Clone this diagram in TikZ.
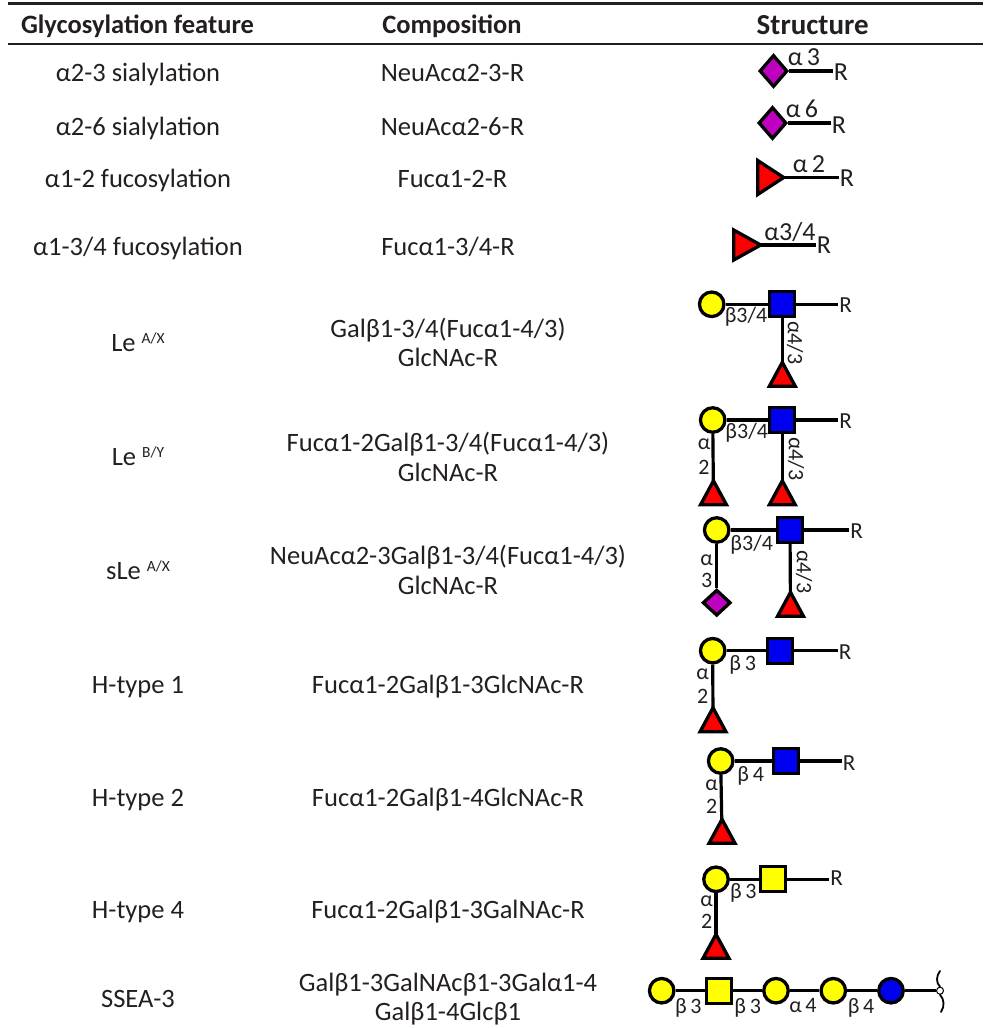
\documentclass[tikz,border=0pt]{standalone}
\usepackage{fontspec}
\setmainfont{Carlito}
\usetikzlibrary{shapes.geometric,backgrounds}
\definecolor{ink}{HTML}{231F20}
\definecolor{sialic}{HTML}{C000C0}
\definecolor{gnblue}{HTML}{0000F0}
\definecolor{galyellow}{HTML}{FFFF00}
\definecolor{fucred}{HTML}{FF0000}
\newcommand{\supr}[1]{\raisebox{8pt}{\fontsize{15.5}{16}\selectfont #1}}
\tikzset{
  cell/.style={font=\fontsize{26.5}{29.5}\selectfont,text=ink,inner sep=0pt,align=center},
  one/.style={font=\fontsize{26.5}{29.5}\selectfont,text=ink,inner sep=0pt,text height=17pt,text depth=5pt},
  head/.style={one,font=\fontsize{26.5}{29.5}\selectfont\bfseries},
  lab/.style={font=\fontsize{22}{24}\selectfont,text=ink,inner sep=0pt},
  labbig/.style={font=\fontsize{26}{28}\selectfont,text=ink,inner sep=0pt},
  rlab/.style={font=\fontsize{23}{24}\selectfont,text=ink,inner sep=1pt},
  rbig/.style={font=\fontsize{26}{28}\selectfont,text=ink,inner sep=1pt},
  link/.style={line width=3.2pt,black},
  glc/.style={draw=black,line width=3.3pt,inner sep=0pt},
  cgal/.style={glc,circle,fill=galyellow,minimum size=24.5pt},
  cglc/.style={glc,circle,fill=gnblue,minimum size=24.5pt},
  sqb/.style={glc,rectangle,fill=gnblue,minimum size=25pt},
  sqy/.style={glc,rectangle,fill=galyellow,minimum size=25pt},
  dia/.style={glc,diamond,fill=sialic,minimum width=28pt,minimum height=32pt,aspect=1},
  tri/.style={glc,isosceles triangle,isosceles triangle stretches,fill=fucred},
  triright/.style={tri,shape border rotate=0,anchor=apex},
  triup/.style={tri,shape border rotate=90,anchor=apex,minimum width=26pt,minimum height=24pt},
}
\begin{document}
\begin{tikzpicture}[x=1pt,y=-1pt]
\useasboundingbox (0,0) rectangle (983,1028);
\coordinate (tl) at (8,3.5); \coordinate (tr) at (983,3.5);
\coordinate (ml) at (8,44); \coordinate (mr) at (983,44);
\draw[line width=2.2pt,ink] (tl) -- (tr);
\draw[line width=1.2pt,ink] (ml) -- (mr);
% headers
\node[head] (h1) at (137.5,27.4) {Glycosylation feature};
\node[head] (h2) at (452,27.4) {Composition};
\node[head,font=\fontsize{29}{30}\selectfont\bfseries] (h3) at (812.7,28.4) {Structure};
% first column
\node[one] (a1) at (138,75.7) {α2-3 sialylation};
\node[one] (a2) at (138,129) {α2-6 sialylation};
\node[one] (a3) at (138,181.7) {α1-2 fucosylation};
\node[one] (a4) at (138,249) {α1-3/4 fucosylation};
\node[one] (a5) at (138,345) {Le \supr{A/X}};
\node[one] (a6) at (138,459) {Le \supr{B/Y}};
\node[one] (a7) at (138,573) {sLe \supr{A/X}};
\node[one] (a8) at (138,687.4) {H-type 1};
\node[one] (a9) at (138,800) {H-type 2};
\node[one] (a10) at (138,912.4) {H-type 4};
\node[one] (a11) at (138,1001.7) {SSEA-3};
% second column
\node[one] (b1) at (452.5,75.7) {NeuAcα2-3-R};
\node[one] (b2) at (452.5,129) {NeuAcα2-6-R};
\node[one] (b3) at (452.5,181.7) {Fucα1-2-R};
\node[one] (b4) at (448,249) {Fucα1-3/4-R};
\node[cell] (b5) at (448,342.6) {Galβ1-3/4(Fucα1-4/3)\\GlcNAc-R};
\node[cell] (b6) at (448,457) {Fucα1-2Galβ1-3/4(Fucα1-4/3)\\GlcNAc-R};
\node[cell] (b7) at (448,570) {NeuAcα2-3Galβ1-3/4(Fucα1-4/3)\\GlcNAc-R};
\node[one] (b8) at (448,687.4) {Fucα1-2Galβ1-3GlcNAc-R};
\node[one] (b9) at (448,800) {Fucα1-2Galβ1-4GlcNAc-R};
\node[one] (b10) at (448,912.4) {Fucα1-2Galβ1-3GalNAc-R};
\node[cell] (b11) at (448,999) {Galβ1-3GalNAcβ1-3Galα1-4\\Galβ1-4Glcβ1};
% row 1
\node[dia] (d1) at (773.5,71) {};
\node[rbig] (r1) at (841,72) {R};
\node[labbig] at (804,57) {α\,3};
% row 2
\node[dia] (d2) at (772.5,123) {};
\node[rbig] (r2) at (839,125) {R};
\node[labbig] at (802,109) {α\,6};
% row 3
\node[triright,minimum width=34pt,minimum height=26pt] (t3) at (788,177.5) {};
\node[rbig] (r3) at (847,178) {R};
\node[labbig] at (809,164) {α\,2};
% row 4
\node[triright,minimum width=30pt,minimum height=27pt] (t4) at (765,245) {};
\node[rbig] (r4) at (824,245) {R};
\node[labbig] at (790,232) {α3/4};
% Le A/X
\node[cgal] (g5) at (711.7,304.3) {};
\node[sqb] (s5) at (782.3,304.3) {};
\node[triup] (t5) at (782.3,358) {};
\node[rlab] (r5) at (845.7,305) {R};
\node[lab] at (746,317) {β3/4};
\node[lab,rotate=-90] at (795,343) {α4/3};
% Le B/Y
\node[cgal] (g6) at (712.7,420) {};
\node[sqb] (s6) at (782.3,420) {};
\node[triup] (t6a) at (713.5,476.5) {};
\node[triup] (t6b) at (782.3,476.5) {};
\node[rlab] (r6) at (845.7,421) {R};
\node[lab] at (746.7,433) {β3/4};
\node[lab] at (704,444) {α};
\node[lab] at (704,467) {2};
\node[lab,rotate=-90] at (796,459) {α4/3};
% sLe A/X
\node[cgal] (g7) at (716.7,530) {};
\node[sqb] (s7) at (790,530) {};
\node[dia,minimum width=28pt,minimum height=26pt] (d7) at (716.7,602.7) {};
\node[triup] (t7) at (790.5,588) {};
\node[rlab] (r7) at (856.7,530.7) {R};
\node[lab] at (751.7,545) {β3/4};
\node[lab] at (706.7,560.7) {α};
\node[lab] at (706.7,580.7) {3};
\node[lab,rotate=-90] at (804,571.7) {α4/3};
% H-type 1
\node[cgal] (g8) at (712.7,650.7) {};
\node[sqb] (s8) at (780,650.7) {};
\node[triup] (t8) at (713,703.5) {};
\node[rlab] (r8) at (845,652) {R};
\node[lab] at (742.7,665) {β\,3};
\node[lab] at (702.7,674) {α};
\node[lab] at (702.7,696.7) {2};
% H-type 2
\node[cgal] (g9) at (720.7,761) {};
\node[sqb] (s9) at (786,761) {};
\node[triup] (t9) at (722,815) {};
\node[rlab] (r9) at (849,762.7) {R};
\node[lab] at (750.7,776) {β\,4};
\node[lab] at (711.7,785) {α};
\node[lab] at (711.7,806.7) {2};
% H-type 4
\node[cgal] (g10) at (716,879.3) {};
\node[sqy] (s10) at (772.7,879.3) {};
\node[triup] (t10) at (716,930) {};
\node[rlab] (r10) at (836.7,878.3) {R};
\node[lab] at (743.3,892.7) {β\,3};
\node[lab] at (706.7,901) {α};
\node[lab] at (706.7,921.7) {2};
% SSEA-3
\node[cgal] (g11a) at (661.7,990.7) {};
\node[sqy] (s11) at (719,990.7) {};
\node[cgal] (g11b) at (776,990.7) {};
\node[cgal] (g11c) at (833.3,990.7) {};
\node[cglc] (c11) at (891,990.7) {};
\node[circle,draw=black,fill=white,line width=1pt,minimum size=7pt,inner sep=0pt] (o11) at (940,990.7) {};
\node[lab] at (688.3,1008) {β\,3};
\node[lab] at (747.7,1008) {β\,3};
\node[lab] at (803,1005) {α\,4};
\node[lab] at (861,1008) {β\,4};
\draw[line width=1.8pt,black,line cap=round] (o11.north) .. controls (936,983) and (936,976) .. (940,971);
\draw[line width=1.8pt,black,line cap=round] (o11.south) .. controls (944,999) and (945,1006) .. (941,1012);
% connectors
\begin{scope}[on background layer]
\draw[link] (d1) -- (d1 -| r1.west);
\draw[link] (d2) -- (d2 -| r2.west);
\draw[link] (t3.center) -- (t3.center -| r3.west);
\draw[link] (t4.center) -- (t4.center -| r4.west);
\draw[link] (g5) -- (s5) -- (s5 -| r5.west);
\draw[link] (s5) -- (t5.center);
\draw[link] (g6) -- (s6) -- (s6 -| r6.west);
\draw[link] (g6) -- (t6a.center);
\draw[link] (s6) -- (t6b.center);
\draw[link] (g7) -- (s7) -- (s7 -| r7.west);
\draw[link] (g7) -- (d7);
\draw[link] (s7) -- (t7.center);
\draw[link] (g8) -- (s8) -- (s8 -| r8.west);
\draw[link] (g8) -- (t8.center);
\draw[link] (g9) -- (s9) -- (s9 -| r9.west);
\draw[link] (g9) -- (t9.center);
\draw[link] (g10) -- (s10) -- (s10 -| r10.west);
\draw[link] (g10) -- (t10.center);
\draw[link] (g11a) -- (s11) -- (g11b) -- (g11c) -- (c11) -- (o11);
\end{scope}
\end{tikzpicture}
\end{document}
